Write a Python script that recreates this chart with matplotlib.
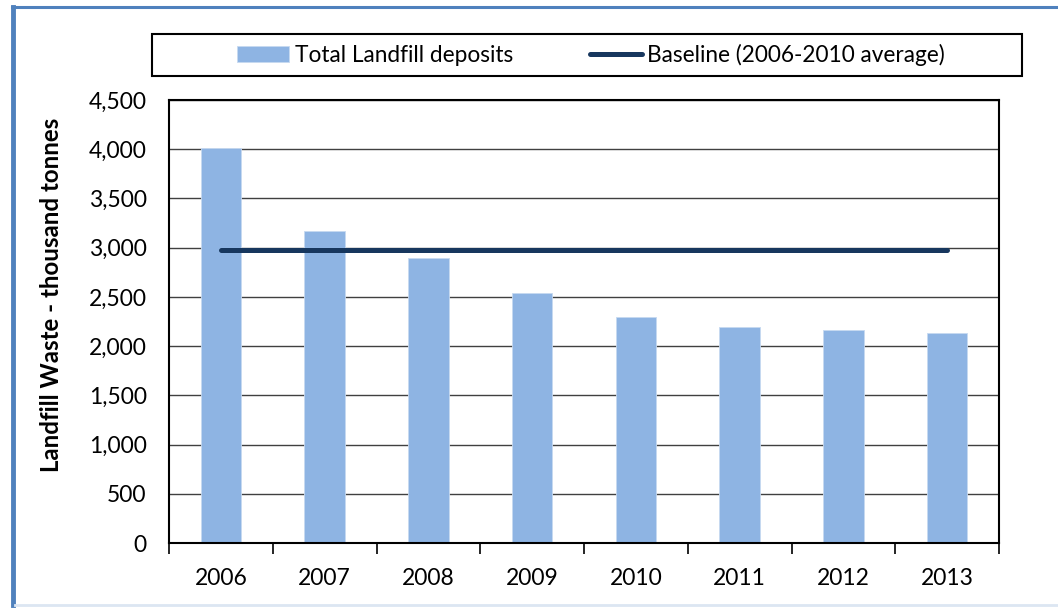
import matplotlib.pyplot as plt
from matplotlib.patches import Rectangle
from matplotlib.lines import Line2D
import numpy as np

plt.rcParams['font.family'] = ['Lato', 'DejaVu Sans']

years = ['2006', '2007', '2008', '2009', '2010', '2011', '2012', '2013']
landfill = [4015, 3165, 2890, 2535, 2300, 2195, 2160, 2135]
baseline = 2980

fig = plt.figure(figsize=(10.58, 6.08), dpi=100)
ax = fig.add_axes([169/1058, 1 - 543/608, 830/1058, 443/608])

x = np.arange(len(years))
bars = ax.bar(x, landfill, width=0.39, color='#8EB4E3', edgecolor='#C6D9F1',
              linewidth=0.6, zorder=2, label='Total Landfill deposits')
line, = ax.plot(x, [baseline] * len(years), color='#17375E', linewidth=3.6,
                solid_capstyle='round', zorder=3, label='Baseline (2006-2010 average)')

ax.set_xlim(-0.5, len(years) - 0.5)
ax.set_ylim(0, 4500)
ax.set_yticks(np.arange(0, 4501, 500))
ax.set_yticklabels([f'{v:,}' for v in range(0, 4501, 500)], fontsize=16.5)
ax.yaxis.grid(True, color='#404040', linewidth=1.0, zorder=0)
ax.set_axisbelow(True)
ax.tick_params(axis='y', length=0, pad=16)

# category labels centered, ticks at category boundaries
ax.set_xticks(x)
ax.set_xticklabels(years, fontsize=16.5)
ax.tick_params(axis='x', which='major', length=0, pad=18)
ax.set_xticks(np.arange(-0.5, len(years)), minor=True)
ax.tick_params(axis='x', which='minor', length=8, width=1.2, direction='out', color='black')

for s in ax.spines.values():
    s.set_linewidth(1.5)
    s.set_color('black')

ax.set_ylabel('Landfill Waste - thousand tonnes', fontsize=17.3, fontweight='bold')
ax.yaxis.set_label_coords(-0.128, 0.56)

# legend box
fig.add_artist(Rectangle((152/1058, 1 - 76/608), 870/1058, 42/608, transform=fig.transFigure,
                         facecolor='white', edgecolor='black', linewidth=1.5))
fig.legend(handles=[bars, line], loc='center', bbox_to_anchor=(591/1058, 1 - 55/608),
           ncol=2, frameon=False, fontsize=16.3, handlelength=2.3, handletextpad=0.25,
           columnspacing=3.4)

# outer blue border
fig.add_artist(Line2D([13/1058, 13/1058], [1 - 605/608, 1 - 7/608], transform=fig.transFigure,
                      color='#4F81BD', linewidth=3.5))
fig.add_artist(Line2D([12/1058, 1.0], [1 - 7/608, 1 - 7/608], transform=fig.transFigure,
                      color='#4F81BD', linewidth=2.2))
fig.add_artist(Line2D([15/1058, 1.0], [1 - 605/608, 1 - 605/608], transform=fig.transFigure,
                      color='#DCE6F2', linewidth=2))

fig.savefig('out.png', dpi=100)
